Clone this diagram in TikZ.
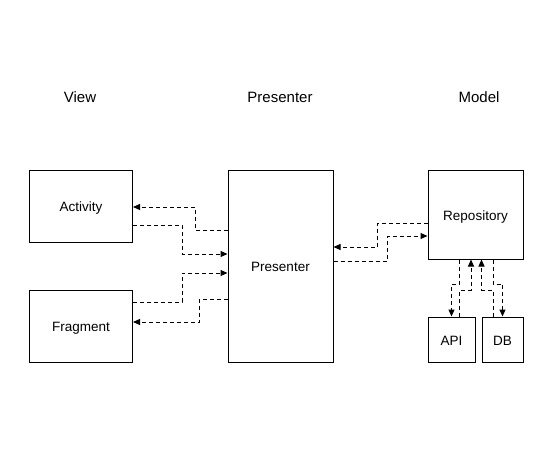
\documentclass[tikz,border=0pt]{standalone}
\usepackage{fontspec}
\setmainfont{Liberation Sans}
\usetikzlibrary{arrows.meta}
\begin{document}
\begin{tikzpicture}[x=1pt,y=-1pt,
  box/.style={draw,line width=1pt,rectangle,inner sep=0pt,
    font=\fontsize{13.5}{16}\selectfont,text height=11.5pt,text depth=0pt},
  head/.style={font=\fontsize{15}{18}\selectfont,anchor=base},
  link/.style={line width=1pt,dash pattern=on 4pt off 3pt,
    -{Triangle[length=7pt,width=6pt]}}]
\useasboundingbox (0,0) rectangle (552,453);
% headings
\node[head] (hview) at (80,102) {View};
\node[head] (hpres) at (280,102) {Presenter};
\node[head] (hmodel) at (479,102) {Model};
% boxes
\node[box,minimum width=103pt,minimum height=72pt] (act) at (81,206) {Activity};
\node[box,minimum width=103pt,minimum height=72pt] (frag) at (81,326) {Fragment};
\node[box,minimum width=105pt,minimum height=192pt] (pres) at (280.5,266) {Presenter};
\node[box,minimum width=95pt,minimum height=89pt] (repo) at (475.5,214.5) {Repository};
\node[box,minimum width=47pt,minimum height=45pt] (api) at (451.5,339.5) {API};
\node[box,minimum width=41pt,minimum height=45pt] (db) at (502.5,339.5) {DB};
% view <-> presenter
\draw[link] (pres.west |- 0,230) -- (195,230) -- (195,207) -- (act.east |- 0,207);
\draw[link] (act.east |- 0,225) -- (182,225) -- (182,254) -- (pres.west |- 0,254);
\draw[link] (frag.east |- 0,302) -- (182,302) -- (182,273) -- (pres.west |- 0,273);
\draw[link] (pres.west |- 0,299) -- (199,299) -- (199,322) -- (frag.east |- 0,322);
% presenter <-> repository
\draw[link] (pres.east |- 0,261) -- (387,261) -- (387,236) -- (repo.west |- 0,236);
\draw[link] (repo.west |- 0,223) -- (377,223) -- (377,247) -- (pres.east |- 0,247);
% repository <-> api / db
\draw[link] (repo.south -| 459.5,0) -- (459.5,284) -- (451.5,284) -- (api.north);
\draw[link] (api.north -| 459.5,0) -- (459.5,290) -- (471,290) -- (repo.south -| 471,0);
\draw[link] (repo.south -| 493,0) -- (493,284) -- (502.5,284) -- (db.north);
\draw[link] (db.north -| 493,0) -- (493,290) -- (481.5,290) -- (repo.south -| 481.5,0);
\end{tikzpicture}
\end{document}
